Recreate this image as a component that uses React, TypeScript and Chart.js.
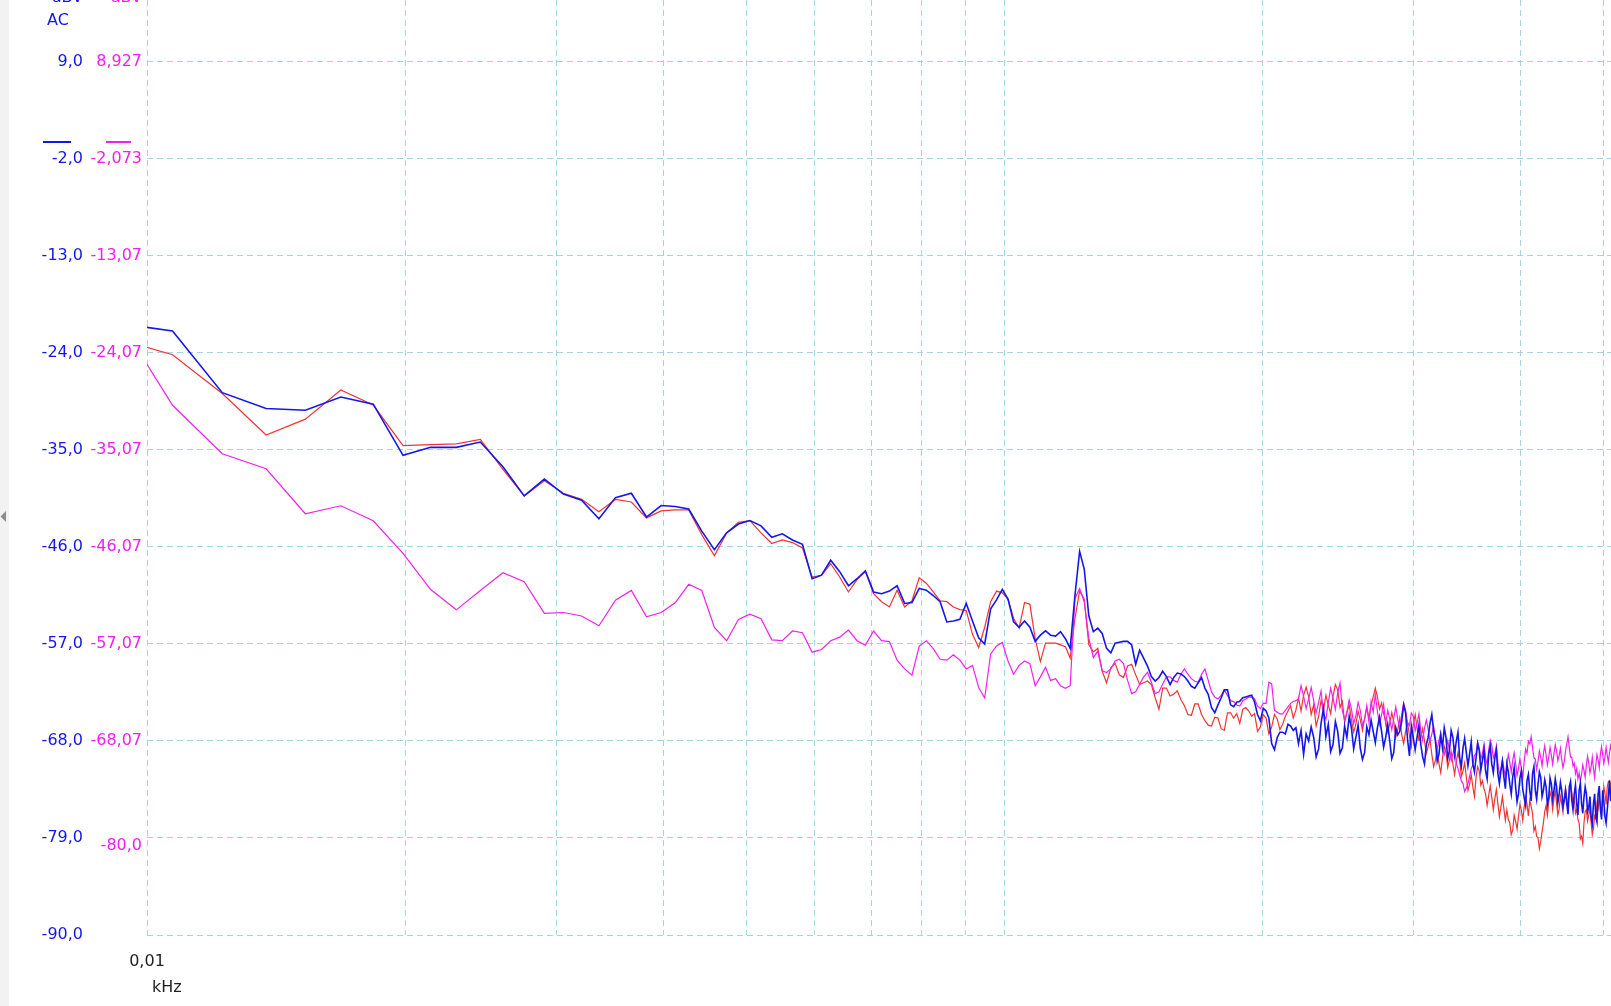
import React, { useEffect, useRef } from 'react';
import { Chart, registerables } from 'chart.js';

Chart.register(...registerables);

const FONT = "'DejaVu Sans', sans-serif";
const BLUE = 'rgb(22, 22, 236)';
const RED = 'rgb(240, 52, 52)';
const MAGENTA = 'rgb(240, 32, 240)';
const GRID = 'rgb(165, 212, 226)';
const TEXT_DARK = '#1e1e1e';

// FFT bins k = 6 .. 334, bin width in Hz
const BIN_HZ = 1.53;
const FIRST_BIN = 6;
const LAST_BIN = 334;
const bins: number[] = [];
for (let k = FIRST_BIN; k <= LAST_BIN; k++) bins.push(k);
const freqKHz = bins.map((k) => (k * BIN_HZ) / 1000);

// Channel A (blue), dBV, one value per bin
const blueDb = [
  // k6..k94
  -20.6, -21.5, -28.5, -30.3, -30.5, -29.0, -29.8, -35.6, -34.7, -34.7,
  -34.1, -36.9, -40.2, -38.3, -40.0, -40.7, -42.8, -40.4, -39.9, -42.6,
  -41.3, -41.4, -41.7, -44.2, -46.3, -44.4, -43.4, -43.0, -43.6, -44.9,
  -44.5, -45.2, -45.7, -49.6, -49.2, -47.5, -48.8, -50.4, -49.6, -48.7,
  -51.1, -51.3, -51.0, -50.4, -52.4, -52.3, -50.7, -50.9, -51.5, -52.2,
  -54.5, -54.4, -54.2, -52.4, -54.4, -56.3, -57.0, -53.0, -52.0, -50.8,
  -51.9, -54.5, -55.1, -54.4, -55.1, -56.7, -56.0, -55.5, -56.0, -56.1,
  -55.6, -56.4, -57.5, -51.5, -46.5, -48.5, -53.8, -55.6, -55.2, -55.8,
  -57.5, -58.0, -56.9, -56.8, -56.7, -56.7, -57.1, -59.3, -57.7,
  // k95..k144
  -58.6, -59.5, -60.7, -61.2, -60.8, -60.1, -60.7, -61.6, -60.8, -60.3,
  -60.4, -60.7, -61.2, -61.8, -62.0, -61.4, -60.8, -62.0, -62.7, -64.2,
  -64.8, -63.9, -63.1, -62.2, -62.2, -63.9, -64.1, -63.6, -63.5, -63.1,
  -63.0, -62.9, -62.8, -63.6, -65.0, -65.7, -64.3, -64.6, -65.4, -68.3,
  -69.0, -67.6, -67.0, -67.0, -67.2, -66.1, -66.3, -66.8, -66.5, -68.3,
  // k145..k334
  -66.8, -69.5, -67.2, -68.0, -66.4, -67.6, -69.8, -68.9, -66.0, -64.3,
  -67.5, -66.1, -69.2, -68.4, -65.8, -66.9, -69.4, -68.8, -66.3, -67.6,
  -65.2, -66.5, -68.9, -67.6, -66.2, -68.8, -70.1, -69.3, -66.4, -67.3,
  -65.6, -66.9, -68.2, -66.5, -65.3, -66.9, -68.7, -67.6, -66.1, -68.0,
  -70.0, -69.3, -66.5, -67.3, -66.9, -65.8, -63.9, -64.8, -67.8, -69.7,
  -66.3, -67.6, -69.0, -67.6, -66.2, -68.4, -69.8, -70.6, -68.4, -67.6,
  -66.0, -65.0, -66.8, -68.0, -70.3, -69.5, -67.4, -68.8, -66.5, -67.6,
  -70.0, -69.1, -66.8, -67.6, -69.6, -68.0, -67.0, -69.9, -70.9, -68.8,
  -67.7, -69.3, -70.8, -69.5, -68.1, -70.6, -71.5, -69.9, -68.3, -69.1,
  -71.3, -70.2, -69.0, -71.4, -72.3, -69.5, -68.6, -70.6, -71.6, -69.9,
  -69.0, -71.7, -72.8, -71.4, -70.3, -72.1, -73.4, -70.6, -71.5, -72.9,
  -74.0, -72.1, -71.0, -73.2, -74.9, -74.0, -72.2, -71.4, -73.5, -74.4,
  -75.3, -72.5, -71.8, -73.6, -74.8, -71.7, -70.9, -73.6, -74.6, -72.9,
  -71.5, -72.1, -74.3, -73.6, -72.4, -73.2, -75.2, -74.4, -72.2, -72.9,
  -74.6, -73.6, -72.3, -73.2, -75.0, -74.0, -72.7, -73.6, -75.4, -74.7,
  -73.6, -75.1, -76.3, -73.2, -72.6, -74.7, -75.8, -74.0, -73.0, -75.1,
  -76.4, -73.6, -72.8, -75.1, -76.2, -74.4, -73.2, -74.0, -76.0, -75.5,
  -74.3, -76.6, -77.4, -75.1, -74.0, -76.6, -77.2, -74.0, -73.1, -75.8,
  -76.9, -73.6, -74.9, -76.6, -77.3, -75.8, -74.2, -72.5, -74.8, -73.6,
];

// Channel B (red), dBV
const redDb = [
  // k6..k94
  -22.3, -24.2, -28.6, -33.3, -31.5, -28.2, -29.9, -34.5, -34.4, -34.3,
  -33.8, -37.2, -40.2, -38.5, -39.9, -40.6, -42.0, -40.6, -40.9, -42.7,
  -41.9, -41.8, -41.8, -44.6, -47.0, -44.4, -43.2, -43.0, -44.4, -45.6,
  -45.2, -45.5, -46.1, -49.4, -49.2, -47.9, -49.4, -51.1, -49.7, -48.8,
  -51.3, -52.2, -52.8, -50.9, -52.8, -52.1, -49.5, -50.1, -51.1, -52.1,
  -52.2, -52.8, -53.1, -53.2, -55.9, -57.4, -55.1, -52.2, -51.0, -51.2,
  -51.9, -54.1, -55.2, -52.3, -52.5, -56.4, -59.0, -56.9, -56.9, -56.9,
  -57.1, -57.3, -58.6, -54.1, -51.0, -51.9, -57.1, -57.9, -57.5, -60.1,
  -61.4, -59.7, -59.2, -60.5, -60.8, -59.5, -59.3, -60.5, -61.6,
  // k95..k144
  -61.4, -61.2, -61.6, -63.1, -64.4, -62.0, -62.0, -62.9, -62.7, -62.3,
  -63.3, -64.0, -65.0, -65.1, -63.8, -63.8, -65.0, -65.7, -66.2, -66.3,
  -65.3, -65.4, -66.6, -66.8, -64.8, -64.8, -65.4, -64.9, -66.0, -64.4,
  -64.2, -64.6, -65.2, -64.9, -66.9, -66.4, -65.0, -65.4, -67.2, -66.4,
  -65.0, -65.5, -66.7, -66.1, -65.2, -64.6, -64.0, -65.4, -64.5, -63.1,
  // k145..k334
  -64.6, -62.8, -61.9, -63.0, -65.0, -63.9, -66.3, -65.2, -63.4, -64.5,
  -62.8, -63.9, -64.9, -62.9, -61.6, -62.2, -64.2, -63.5, -65.9, -64.8,
  -63.9, -65.6, -67.0, -66.1, -64.6, -65.6, -66.8, -65.4, -64.2, -65.4,
  -64.0, -63.0, -62.0, -63.0, -64.4, -63.7, -64.9, -65.8, -67.0, -66.0,
  -64.8, -65.8, -67.6, -66.7, -65.4, -67.3, -68.3, -66.9, -65.9, -67.4,
  -68.6, -66.1, -65.0, -66.5, -67.9, -67.6, -66.6, -68.0, -69.4, -68.6,
  -67.8, -69.5, -70.9, -70.2, -69.0, -70.6, -71.6, -69.9, -68.6, -69.3,
  -71.0, -70.1, -69.2, -70.6, -71.8, -70.4, -69.3, -70.2, -72.0, -71.4,
  -70.5, -72.1, -73.6, -72.9, -71.8, -73.2, -74.3, -72.1, -70.9, -71.4,
  -73.0, -72.5, -73.4, -74.0, -75.3, -74.2, -73.1, -74.4, -75.8, -74.5,
  -73.5, -75.1, -76.6, -75.5, -74.3, -75.7, -77.0, -75.8, -76.9, -77.3,
  -78.6, -78.1, -76.4, -77.1, -78.0, -76.6, -75.2, -75.8, -77.0, -75.5,
  -74.4, -75.1, -76.5, -74.7, -75.4, -76.2, -78.2, -77.7, -78.8, -79.0,
  -80.2, -79.4, -78.3, -77.3, -76.0, -75.3, -76.4, -74.9, -73.8, -74.4,
  -75.8, -74.5, -73.6, -75.1, -76.4, -75.7, -74.3, -75.1, -76.1, -74.5,
  -73.4, -74.4, -75.6, -74.0, -72.9, -73.8, -75.0, -74.4, -76.2, -75.8,
  -76.9, -77.3, -79.1, -78.8, -79.6, -77.3, -76.0, -75.8, -77.1, -76.4,
  -75.5, -77.3, -78.6, -77.9, -76.5, -76.8, -75.1, -75.7, -74.6, -75.3,
  -76.3, -74.4, -73.2, -74.0, -75.2, -73.2, -72.6, -72.5, -73.5, -72.1,
];

// Reference trace (magenta), dBV
const magentaDb = [
  // k6..k94
  -19.6, -30.0, -35.5, -37.2, -42.3, -41.4, -43.1, -46.8, -50.9, -53.2,
  -51.0, -49.0, -50.0, -53.6, -53.5, -53.9, -55.0, -52.1, -51.0, -54.0,
  -53.5, -52.4, -50.3, -51.0, -55.2, -56.7, -54.3, -53.7, -54.2, -56.6,
  -56.7, -55.6, -55.8, -58.0, -57.7, -56.7, -56.3, -55.5, -56.7, -57.2,
  -55.6, -56.7, -56.8, -58.9, -59.9, -60.6, -57.3, -56.7, -57.6, -58.8,
  -58.9, -58.3, -58.9, -59.9, -59.5, -62.0, -63.2, -58.2, -57.3, -56.9,
  -59.0, -60.5, -59.5, -59.0, -59.3, -61.8, -60.8, -59.7, -61.2, -61.0,
  -61.8, -62.1, -61.8, -51.9, -50.8, -52.3, -56.4, -58.6, -57.9, -60.1,
  -60.3, -59.9, -59.0, -58.8, -59.3, -61.2, -62.7, -62.5, -61.6,
  // k95..k144
  -60.8, -60.3, -61.4, -62.7, -62.5, -61.6, -60.8, -60.8, -61.2, -61.4,
  -60.5, -59.9, -60.5, -61.0, -61.3, -61.4, -60.5, -59.9, -61.2, -62.5,
  -63.1, -63.3, -62.9, -62.3, -62.9, -63.5, -63.6, -64.0, -64.1, -63.5,
  -63.3, -63.1, -63.1, -63.3, -64.1, -64.4, -63.8, -63.8, -61.4, -61.6,
  -64.6, -64.8, -65.0, -65.0, -64.6, -64.2, -63.8, -63.6, -63.5, -63.3,
  // k145..k334
  -61.8, -63.0, -64.4, -63.3, -62.0, -63.5, -64.9, -63.7, -62.4, -65.0,
  -65.6, -63.7, -62.1, -63.2, -64.5, -62.6, -61.5, -64.6, -65.7, -64.8,
  -63.4, -64.4, -66.1, -65.2, -63.7, -64.6, -66.3, -65.6, -64.1, -66.0,
  -63.6, -64.8, -62.8, -64.7, -66.2, -65.1, -63.9, -66.1, -64.6, -65.6,
  -66.8, -65.5, -64.2, -65.6, -66.7, -65.1, -63.8, -64.6, -66.0, -66.3,
  -64.9, -65.3, -66.9, -66.1, -65.0, -66.9, -68.0, -66.6, -65.7, -66.7,
  -68.2, -67.3, -66.4, -67.8, -69.0, -68.0, -67.1, -68.4, -69.6, -68.9,
  -68.0, -69.2, -70.3, -69.5, -68.8, -70.6, -71.2, -71.9, -72.6, -72.9,
  -73.8, -73.4, -72.9, -72.1, -71.2, -70.8, -69.7, -69.5, -68.2, -68.9,
  -70.1, -69.5, -68.4, -69.9, -70.8, -69.1, -68.0, -68.6, -70.0, -69.5,
  -68.6, -70.6, -71.8, -71.4, -70.2, -71.2, -72.1, -70.8, -69.6, -70.5,
  -71.6, -70.3, -69.4, -70.6, -72.0, -71.2, -70.1, -71.2, -72.3, -70.4,
  -69.0, -69.5, -68.1, -68.4, -67.6, -68.8, -70.0, -70.1, -71.3, -70.4,
  -69.2, -69.9, -70.9, -69.5, -68.6, -69.7, -70.8, -69.9, -68.8, -69.7,
  -70.7, -69.5, -68.5, -69.2, -70.3, -69.7, -68.9, -70.2, -71.1, -70.4,
  -69.2, -68.4, -67.6, -68.8, -69.9, -69.9, -70.9, -70.6, -71.8, -71.2,
  -72.4, -71.7, -72.6, -71.9, -70.8, -71.4, -72.2, -70.8, -69.8, -70.6,
  -71.7, -71.0, -69.9, -71.2, -72.2, -70.8, -69.6, -70.2, -71.1, -69.5,
  -68.7, -69.7, -70.6, -69.9, -68.8, -69.7, -70.5, -69.4, -68.6, -69.3,
];

// Axes
const xTicksKHz = [0.01, 0.02, 0.03, 0.04, 0.05, 0.06, 0.07, 0.08, 0.09, 0.1, 0.2, 0.3, 0.4, 0.5];
const xTickLabels = ['0,01', '', '', '', '', '', '', '', '', '', '', '', '', ''];
const blueTicks = [9, -2, -13, -24, -35, -46, -57, -68, -79, -90];
const blueTickLabels = ['9,0', '-2,0', '-13,0', '-24,0', '-35,0', '-46,0', '-57,0', '-68,0', '-79,0', '-90,0'];
const magentaTicks = [8.927, -2.073, -13.073, -24.073, -35.073, -46.073, -57.073, -68.073, -80.0];
const magentaTickLabels = ['8,927', '-2,073', '-13,07', '-24,07', '-35,07', '-46,07', '-57,07', '-68,07', '-80,0'];
const X_MIN = 0.01;
const X_MAX = 0.51;
const Y_MIN = -90;
const Y_MAX = 16.03;
const MAGENTA_OFFSET = 0.073;
const unitLabel = 'dBV';
const couplingLabel = 'AC';
const xUnitLabel = 'kHz';

const toPoints = (ys: number[]) => ys.map((y, i) => ({ x: freqKHz[i], y }));

const decorPlugin = {
  id: 'decor',
  beforeDraw(chart: any) {
    const { ctx, width, height } = chart;
    ctx.save();
    ctx.fillStyle = '#ffffff';
    ctx.fillRect(0, 0, width, height);
    ctx.fillStyle = '#f2f2f2';
    ctx.fillRect(0, 0, 9, height);
    ctx.fillStyle = '#8c8c8c';
    ctx.beginPath();
    ctx.moveTo(6, 511);
    ctx.lineTo(6, 522);
    ctx.lineTo(0.5, 516.5);
    ctx.closePath();
    ctx.fill();
    ctx.restore();
  },
  afterDraw(chart: any) {
    const { ctx } = chart;
    ctx.save();
    ctx.font = `16px ${FONT}`;
    ctx.textBaseline = 'alphabetic';
    ctx.textAlign = 'right';
    ctx.fillStyle = BLUE;
    ctx.fillText(unitLabel, 83, 1.5);
    ctx.fillStyle = MAGENTA;
    ctx.fillText(unitLabel, 142, 1.5);
    ctx.textAlign = 'left';
    ctx.textBaseline = 'middle';
    ctx.fillStyle = BLUE;
    ctx.fillText(couplingLabel, 47, 21);
    ctx.fillRect(43, 141, 28, 2);
    ctx.fillStyle = MAGENTA;
    ctx.fillRect(106, 141, 25, 2);
    ctx.fillStyle = TEXT_DARK;
    ctx.fillText(xUnitLabel, 152, 988);
    ctx.restore();
  },
};

export default function App() {
  const ref = useRef<HTMLCanvasElement | null>(null);

  useEffect(() => {
    if (!ref.current) return;
    const font = { family: FONT, size: 16 };
    const chart = new Chart(ref.current, {
      type: 'line',
      data: {
        datasets: [
          {
            label: 'A',
            data: toPoints(blueDb),
            borderColor: BLUE,
            borderWidth: 1.6,
            yAxisID: 'y',
            order: 0,
          },
          {
            label: 'Ref',
            data: toPoints(magentaDb),
            borderColor: MAGENTA,
            borderWidth: 1.2,
            yAxisID: 'y2',
            order: 1,
          },
          {
            label: 'B',
            data: toPoints(redDb),
            borderColor: RED,
            borderWidth: 1.2,
            yAxisID: 'y',
            order: 2,
          },
        ] as any,
      },
      options: {
        animation: false,
        responsive: false,
        devicePixelRatio: 1,
        events: [],
        layout: { padding: 0 },
        elements: {
          point: { radius: 0 },
          line: { tension: 0, fill: false },
        },
        plugins: {
          legend: { display: false },
          tooltip: { enabled: false },
        },
        scales: {
          x: {
            type: 'logarithmic',
            min: X_MIN,
            max: X_MAX,
            afterBuildTicks: (s: any) => {
              s.ticks = xTicksKHz.map((v) => ({ value: v }));
            },
            afterFit: (s: any) => {
              s.height = 71;
              s.paddingLeft = 0;
              s.paddingRight = 0;
            },
            ticks: {
              callback: (_v: any, i: number) => xTickLabels[i],
              autoSkip: false,
              maxRotation: 0,
              color: TEXT_DARK,
              font,
              padding: 17,
            },
            grid: { color: GRID, lineWidth: 1, drawTicks: false },
            border: { display: false, dash: [6, 4] },
          },
          y: {
            type: 'linear',
            position: 'left',
            weight: 1,
            min: Y_MIN,
            max: Y_MAX,
            bounds: 'data',
            afterBuildTicks: (s: any) => {
              s.ticks = blueTicks.map((v) => ({ value: v }));
            },
            afterFit: (s: any) => {
              s.width = 88;
              s.paddingTop = 0;
              s.paddingBottom = 0;
            },
            ticks: {
              callback: (_v: any, i: number) => blueTickLabels[i],
              color: BLUE,
              font,
              padding: 5,
            },
            grid: { color: GRID, lineWidth: 1, drawTicks: false },
            border: { display: false, dash: [6, 4] },
          },
          y2: {
            type: 'linear',
            position: 'left',
            weight: 0,
            min: Y_MIN - MAGENTA_OFFSET,
            max: Y_MAX - MAGENTA_OFFSET,
            bounds: 'data',
            afterBuildTicks: (s: any) => {
              s.ticks = magentaTicks.map((v) => ({ value: v }));
            },
            afterFit: (s: any) => {
              s.width = 59;
              s.paddingTop = 0;
              s.paddingBottom = 0;
            },
            ticks: {
              callback: (_v: any, i: number) => magentaTickLabels[i],
              color: MAGENTA,
              font,
              padding: 5,
            },
            grid: { display: false, drawTicks: false },
            border: { display: false },
          },
        },
      } as any,
      plugins: [decorPlugin],
    });
    return () => chart.destroy();
  }, []);

  return (
    <div
      style={{
        position: 'fixed',
        left: 0,
        top: 0,
        width: 1611,
        height: 1006,
        background: '#ffffff',
        overflow: 'hidden',
      }}
    >
      <canvas ref={ref} width={1611} height={1006} style={{ display: 'block', width: 1611, height: 1006 }} />
    </div>
  );
}
